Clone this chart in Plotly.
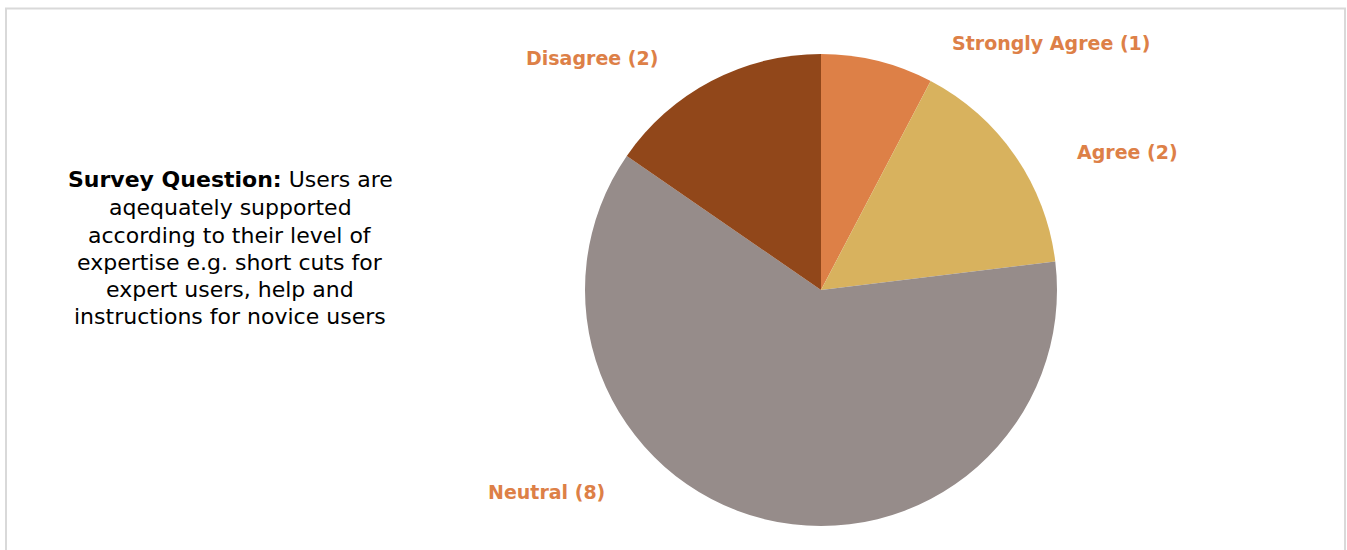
import plotly.graph_objects as go

categories = ["Strongly Agree", "Agree", "Neutral", "Disagree"]
counts = [1, 2, 8, 2]
colors = ["#DD8047", "#D8B25E", "#968C8A", "#91471A"]
question_lines = [
    "<b>Survey Question:</b> Users are",
    "aqequately supported",
    "according to their level of",
    "expertise e.g. short cuts for",
    "expert users, help and",
    "instructions for novice users",
]

W, H = 1347, 550
FONT = "DejaVu Sans"
LABEL_COLOR = "#DD8047"

fig = go.Figure()
fig.add_trace(go.Pie(
    labels=categories,
    values=counts,
    sort=False,
    direction="clockwise",
    rotation=0,
    marker=dict(colors=colors, line=dict(width=0)),
    textinfo="none",
    hoverinfo="label+value",
    showlegend=False,
    domain=dict(x=[585 / W, 1057 / W], y=[(H - 526) / H, (H - 54) / H]),
))

# label positions (pixels, centre of text)
label_pos = [(1051, 43), (1127, 152), (546, 492), (592, 58)]
for cat, cnt, (px, py) in zip(categories, counts, label_pos):
    fig.add_annotation(
        x=px / W, y=1 - py / H, xref="paper", yref="paper",
        text=f"<b>{cat} ({cnt})</b>", showarrow=False,
        font=dict(family=FONT, size=19, color=LABEL_COLOR),
        xanchor="center", yanchor="middle",
    )

line_y = [179, 207, 235, 262, 289, 316]
for txt, py in zip(question_lines, line_y):
    fig.add_annotation(
        x=230 / W, y=1 - py / H, xref="paper", yref="paper",
        text=txt, showarrow=False,
        font=dict(family=FONT, size=22, color="#000000"),
        align="center", xanchor="center", yanchor="middle",
    )

fig.add_shape(type="rect", xref="paper", yref="paper",
              x0=6 / W, x1=1345 / W, y0=-0.05, y1=1 - 8.5 / H,
              line=dict(color="#D9D9D9", width=2), fillcolor="rgba(0,0,0,0)")

fig.update_layout(
    width=W, height=H,
    margin=dict(l=0, r=0, t=0, b=0),
    paper_bgcolor="white", plot_bgcolor="white",
)

fig.write_html("out.html", config={"displayModeBar": False},
               post_script="document.body.style.margin='0';document.body.style.overflow='hidden';")
